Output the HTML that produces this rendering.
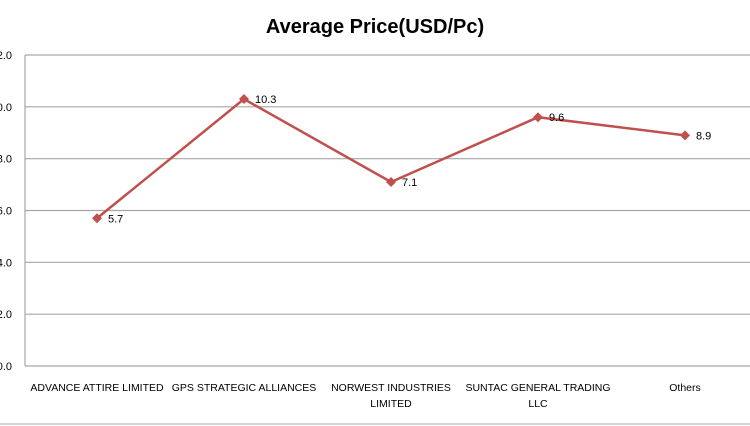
<!DOCTYPE html>
<html><head><meta charset="utf-8"><style>
body{margin:0;background:#fff;}
svg{display:block;font-family:"Liberation Sans",sans-serif;}
</style></head><body>
<svg width="750" height="426">
<text x="375" y="33" text-anchor="middle" font-size="20" font-weight="bold" fill="#000">Average Price(USD/Pc)</text>
<g id="grid"></g><g id="yt"></g><g id="xt"></g><g id="ser"></g>
<line x1="0" y1="424" x2="750" y2="424" stroke="#aaa"/>
</svg>
<script>
const categories=[["ADVANCE ATTIRE  LIMITED"],["GPS STRATEGIC  ALLIANCES"],["NORWEST INDUSTRIES","LIMITED"],["SUNTAC  GENERAL  TRADING","LLC"],["Others"]];
const values=[5.7,10.3,7.1,9.6,8.9];
const yTicks=[0,2,4,6,8,10,12];
const NS="http://www.w3.org/2000/svg";
const y0=366,y1=55,ymax=12,left=25,right=750,x0=97,step=147;
const Y=v=>y0-(v/ymax)*(y0-y1);
const X=i=>x0+i*step;
function mk(t,a,p){const e=document.createElementNS(NS,t);for(const k in a)e.setAttribute(k,a[k]);document.getElementById(p).appendChild(e);return e;}
yTicks.forEach(v=>{
 const l=mk('line',{x1:left,x2:right,y1:Y(v),y2:Y(v),stroke:'#a6a6a6','stroke-width':1.2},'grid');
 
 
 const t=mk('text',{x:12,y:Y(v)+4,'text-anchor':'end','font-size':11},'yt');
 t.textContent=v.toFixed(1);
 
 
});
const ax=mk('line',{x1:left,x2:left,y1:y1,y2:y0,stroke:'#a6a6a6','stroke-width':1.2},'grid');


categories.forEach((c,i)=>{c.forEach((s,j)=>{
 const t=mk('text',{x:X(i),y:391+j*16,'text-anchor':'middle','font-size':10.5,'xml:space':'preserve'},'xt');
 t.textContent=s;
 
 
});});
const pl=mk('polyline',{points:values.map((v,i)=>X(i)+','+Y(v)).join(' '),fill:'none',stroke:'#c0504d','stroke-width':2.5},'ser');


values.forEach((v,i)=>{
 const x=X(i),y=Y(v);
 const m=mk('polygon',{points:`${x},${y-5} ${x+5},${y} ${x},${y+5} ${x-5},${y}`,fill:'#c0504d'},'ser');
 
 
 const t=mk('text',{x:x+11,y:y+4,'font-size':11},'ser');
 t.textContent=v.toFixed(1);
 
 
});
</script>
</body></html>
